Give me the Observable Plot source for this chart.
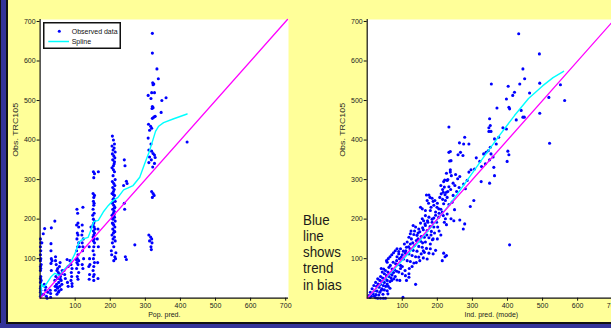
<!DOCTYPE html>
<html><head><meta charset="utf-8">
<script src="https://cdn.jsdelivr.net/npm/d3@7"></script>
<script src="https://cdn.jsdelivr.net/npm/@observablehq/plot@0.6"></script>
<style>
html,body{margin:0;padding:0;width:611px;height:328px;overflow:hidden;background:#FFFF99;font-family:"Liberation Sans",Arial,sans-serif;}
#stage{position:relative;width:611px;height:328px;overflow:hidden;background:#FFFF99;}
.abs{position:absolute;}
#left{width:300px;height:328px;}
#right{width:327px;height:328px;}
#left svg,#right svg{max-width:none !important;}
#note{position:absolute;left:303px;top:211.5px;font-size:15px;line-height:16.3px;color:#1a1a1a;transform:scaleX(0.89);transform-origin:0 0;white-space:nowrap;}
</style></head><body><div id="stage">
<div id="left" class="abs" style="left:0;top:0"></div>
<div id="right" class="abs" style="left:300px;top:0"></div>
<div class="abs" style="left:0;top:0;width:7px;height:328px;background:#333399"></div>
<div class="abs" style="left:0;top:0;width:1px;height:328px;background:#111"></div>
<div class="abs" style="left:6px;top:0;width:1.5px;height:323px;background:#111"></div>
<div class="abs" style="left:0;top:323px;width:611px;height:5px;background:#333399"></div>
<div class="abs" style="left:6px;top:322px;width:605px;height:1.5px;background:#111"></div>
<div id="legend" class="abs" style="left:43px;top:21.5px"></div>
<div id="note"></div>
</div>
<script>
const xTicks = [100, 200, 300, 400, 500, 600, 700];
const yTicks = [100, 200, 300, 400, 500, 600, 700];
const yLabel = "Obs. TRC105";
const leftXLabel = "Pop. pred.";
const rightXLabel = "Ind. pred. (mode)";
const legendLabels = ["Observed data", "Spline"];
const noteLines = ["Blue", "line", "shows", "trend", "in bias"];
const identity = [0, 705];

// Observed vs population prediction [pred, obs]
const leftPoints = [
[1,150],[2,140],[1,130],[2,120],[1,110],[2,100],[1,95],[3,85],[1,80],[2,75],[1,70],[2,55],[1,50],[3,45],[1,40],[2,30],[1,25],[2,20],[1,15],[3,10],[1,5],[5,140],[9,163],[13,176],
[10,10],[15,20],[18,5],[20,0],[22,15],[12,35],[16,28],[30,2],[30,12],[29,20],[32,70],[31,138],[31,120],[32,100],[31,88],[34,95],[32,178],[42,195],
[44,95],[46,85],[50,75],[48,70],[52,65],[55,60],[45,55],[50,50],[58,48],[42,45],[53,40],[47,35],[56,30],[50,25],[60,22],[44,20],[52,15],[48,10],[58,55],[60,45],[61,62],[55,80],[57,90],[43,30],[62,35],[63,70],[49,28],[54,18],[44,105],
[77,98],[80,80],[85,95],[88,85],[91,75],[89,65],[90,55],[88,45],[91,37],[91,30],[70,60],[72,50],[78,40],[80,30],[68,70],
[105,225],[107,215],[108,190],[104,185],[110,180],[106,165],[108,160],[105,150],[110,140],[107,130],[104,120],[108,110],[106,100],[110,95],[105,90],[108,85],[104,75],[110,65],[106,55],[108,48],[112,130],[103,98],
[122,230],[120,185],[121,170],[119,160],[123,150],[120,140],[122,130],[121,120],[124,100],[120,85],[122,75],
[140,130],[141,100],[142,85],[139,80],[141,60],[140,48],[145,180],
[152,320],[155,315],[153,305],[151,265],[155,260],[153,255],[152,245],[154,240],[153,235],[151,225],[154,215],[152,200],[155,195],[153,190],[151,185],[154,180],[152,170],[155,165],[153,160],[151,155],[154,150],[152,145],[155,140],[153,130],[151,120],[154,110],[152,100],[155,90],[153,80],[151,70],[154,60],[152,55],[153,45],[156,175],[150,210],
[166,320],[165,175],[163,150],[166,130],[164,90],[165,50],
[206,410],[209,400],[212,390],[205,385],[211,380],[208,375],[214,370],[206,365],[210,360],[213,355],[207,350],[211,340],[209,335],[205,330],[212,320],[208,310],[214,300],[206,295],[210,290],[213,285],[207,280],[211,275],[209,270],[205,265],[212,260],[208,250],[214,245],[206,240],[210,235],[213,230],[207,225],[211,220],[209,215],[205,210],[212,205],[208,200],[214,195],[206,190],[210,185],[213,180],[207,175],[211,170],[209,165],[205,160],[212,155],[208,150],[214,145],[206,140],[210,130],[203,120],[216,115],[204,110],[213,105],[215,100],[210,95],[209,262],[212,228],[207,242],[211,212],[208,188],[213,168],[206,202],[210,252],[209,325],[212,345],
[240,350],[242,335],[246,296],[248,290],[238,285],[240,240],[241,225],[243,105],[246,98],[270,135],
[320,670],[320,620],[333,580],[337,555],[321,545],[324,542],[322,540],[318,520],[326,520],[308,513],[316,505],[347,500],[359,507],[320,485],[322,482],[319,480],[345,470],[328,460],[324,458],[320,455],[309,440],[315,435],[318,430],[312,425],[308,405],[316,390],[310,375],[318,372],[322,366],[326,362],[312,357],[328,356],[310,343],[326,341],[321,332],[317,350],[318,270],[322,265],[325,260],[320,255],[310,160],[315,155],[318,150],[312,145],[319,140],[316,130],[317,123],
[419,395]
];
const leftSpline = [[1,3],[4,36],[10,28],[18,36],[32,55],[42,63],[56,57],[70,74],[85,87],[99,112],[111,142],[123,150],[137,154],[146,175],[153,194],[166,197],[180,218],[194,234],[208,247],[222,255],[238,274],[251,279],[265,285],[284,306],[298,340],[310,368],[319,393],[329,422],[338,435],[352,444],[381,454],[419,466]];

// Observed vs individual prediction [pred, obs]
const rightPoints = [
[432,669],[491,618],[444,580],[449,555],[435,542],[354,542],[492,544],[402,536],[420,521],[415,513],[463,519],[397,504],[563,500],[518,508],[551,540],[370,481],[404,483],[406,479],[439,475],[425,451],[444,458],[448,458],[492,468],[349,454],[351,437],[347,431],[347,422],[353,422],[387,431],[397,428],[233,433],[520,392],
[278,407],[263,393],[275,390],[290,390],[363,403],[375,407],[368,390],[351,382],[345,373],[339,369],[332,365],[353,365],[359,357],[349,350],[401,372],[404,363],[399,346],[233,369],[237,371],[239,348],[235,347],[266,369],[273,361],[259,363],[311,355],[321,346],[337,340],[326,333],[296,325],[290,319],[306,327],[361,331],[363,310],[349,291],[325,295],[285,298],[237,325],[226,316],[221,299],[228,298],[237,319],[252,313],[258,302],[264,308],
[220,281],[226,268],[217,268],[211,264],[233,282],[245,291],[275,289],[280,277],[304,247],[294,232],[245,260],[228,255],[223,247],[218,239],[233,237],[249,224],[242,243],[169,261],[176,261],[179,255],[185,253],[171,247],[193,247],[199,230],[204,226],[152,230],[157,226],[166,222],[180,222],[195,218],[214,218],[228,213],[217,209],[204,205],[223,201],[220,192],[226,186],[239,201],[247,196],[264,198],[278,188],[274,175],[166,209],[176,205],[190,203],[157,201],[161,196],[173,192],[185,192],[198,192],[152,190],[166,184],[179,181],[190,180],[201,180],[131,184],[138,180],[147,175],[160,173],[171,171],[183,169],
[123,163],[133,161],[142,159],[154,156],[163,154],[176,153],[186,148],[119,154],[126,150],[140,146],[152,144],[166,142],[180,137],[114,142],[123,137],[135,133],[147,131],[157,129],[169,126],[180,125],[195,121],[106,137],[112,129],[122,125],[131,121],[142,119],[154,112],[163,116],[176,114],[188,112],[95,125],[103,119],[109,114],[119,112],[128,108],[138,105],[147,104],[160,102],[171,99],[218,114],[226,108],[214,95],[222,105],[406,135],[90,112],[97,104],[104,99],[114,95],[123,93],[133,89],[84,95],[74,91],[81,87],[87,85],[95,83],
[40,75],[55,95],[60,100],[70,110],[75,115],[80,120],[85,125],[65,105],[90,118],
[145,165],[150,168],[158,178],[165,188],[172,196],[185,200],[195,210],[205,215],[210,225],[200,240],[190,235],[182,230],[175,240],[188,245],[207,255],[215,250],[222,262],[230,270],[238,275],[250,285],[255,270],[262,280],[215,275],[210,285],[218,295],[230,300],[240,310],[130,140],[118,130],[110,120],[100,110],[92,100],[85,105],[125,170],[135,170],[145,150],[158,140],[170,160],[182,160],[192,165],[205,170],[210,160],[200,150],[188,150],[160,120],[150,95],[140,90],[128,80],[120,75],[100,80],[95,75],[108,70],[75,65],[80,55],[70,45],[60,30],[65,25],[40,20],[33,8],[45,10],[20,5],[12,5],[8,2],
[57,91],[66,83],[62,78],[71,74],[78,72],[84,68],[90,66],[100,62],[109,57],[119,53],[47,74],[52,70],[59,66],[65,62],[71,59],[43,66],[49,62],[55,57],[62,55],[68,51],[76,49],[85,46],[93,45],[38,55],[44,51],[52,49],[57,45],[65,42],[30,49],[36,45],[43,42],[49,40],[57,36],[24,40],[31,36],[38,35],[46,32],[53,30],[19,32],[27,30],[34,28],[42,24],[49,21],[14,24],[21,19],[28,18],[36,15],[9,15],[17,11],[25,9],[5,7],[57,19],[59,11],[138,35],[112,45],[119,62],[30,0],[38,0],[46,0],[102,2],[24,1],[52,0]
];
const rightSpline = [[2,2],[47,45],[95,91],[142,137],[190,188],[237,239],[285,298],[332,357],[380,415],[420,462],[460,505],[500,537],[530,558],[560,574]];

function panel(points, spline, xLabel, width, marginLeft) {
  const svg = Plot.plot({
    width, height: 328,
    marginLeft, marginRight: 12, marginTop: 19, marginBottom: 30.3,
    x: {domain: [0, 708], label: null},
    y: {domain: [0, 705], label: null},
    style: {background: "transparent", color: "#111", fontFamily: "'Liberation Sans', Arial, sans-serif", fontSize: "7px", overflow: "visible", maxWidth: "none"},
    marks: [
      Plot.frame({fill: "white", stroke: "none"}),
      Plot.dot(points, {x: d => d[0], y: d => d[1], r: 1.55, fill: "#0000FF", stroke: "none"}),
      Plot.line(spline, {x: d => d[0], y: d => d[1], stroke: "#00FFFF", strokeWidth: 1.4}),
      Plot.line(identity, {x: d => d, y: d => d, stroke: "#FF00FF", strokeWidth: 1.3}),
      Plot.ruleX([0], {stroke: "#111", strokeWidth: 1.2}),
      Plot.ruleY([0], {stroke: "#111", strokeWidth: 1.2}),
      Plot.axisY(yTicks, {tickSize: 3, tickPadding: 1.5, fontSize: 7, fill: "#222", label: null}),
      Plot.axisX(xTicks, {tickSize: 3, tickPadding: 2, fontSize: 7, fill: "#222", label: null}),
      Plot.text([xLabel], {frameAnchor: "bottom", dy: 19.1, fontSize: 7, fill: "#222"}),
      Plot.text([yLabel], {frameAnchor: "left", dx: -24.6, dy: -2, rotate: -90, fontSize: 7, fill: "#222"})
    ]
  });
  svg.style.maxWidth = "none";
  d3.select(svg).selectAll("text").filter(function() { return this.textContent === yLabel; })
    .attr("textLength", 54).attr("lengthAdjust", "spacingAndGlyphs");
  return svg;
}

document.getElementById("left").appendChild(panel(leftPoints, leftSpline, leftXLabel, 300, 39.6));
document.getElementById("right").appendChild(panel(rightPoints, rightSpline, rightXLabel, 327, 66.7));

// legend
const lg = d3.select("#legend").append("svg").attr("width", 79).attr("height", 28).style("overflow", "visible");
lg.append("rect").attr("x", 0.75).attr("y", 0.75).attr("width", 76.5).attr("height", 25.5).attr("fill", "white").attr("stroke", "#111").attr("stroke-width", 1.5);
lg.append("circle").attr("cx", 16.3).attr("cy", 9.2).attr("r", 1.5).attr("fill", "#0000FF");
lg.append("line").attr("x1", 5.3).attr("x2", 26).attr("y1", 19.5).attr("y2", 19.5).attr("stroke", "#00FFFF").attr("stroke-width", 1.5);
lg.selectAll("text.l").data(legendLabels).join("text").attr("class", "l")
  .attr("x", 28.7).attr("y", (d, i) => 11.7 + i * 10.3)
  .attr("font-size", 7).attr("fill", "#111").attr("font-family", "'Liberation Sans', Arial, sans-serif").text(d => d);

// note
d3.select("#note").selectAll("div").data(noteLines).join("div").text(d => d);
</script>
</body></html>
